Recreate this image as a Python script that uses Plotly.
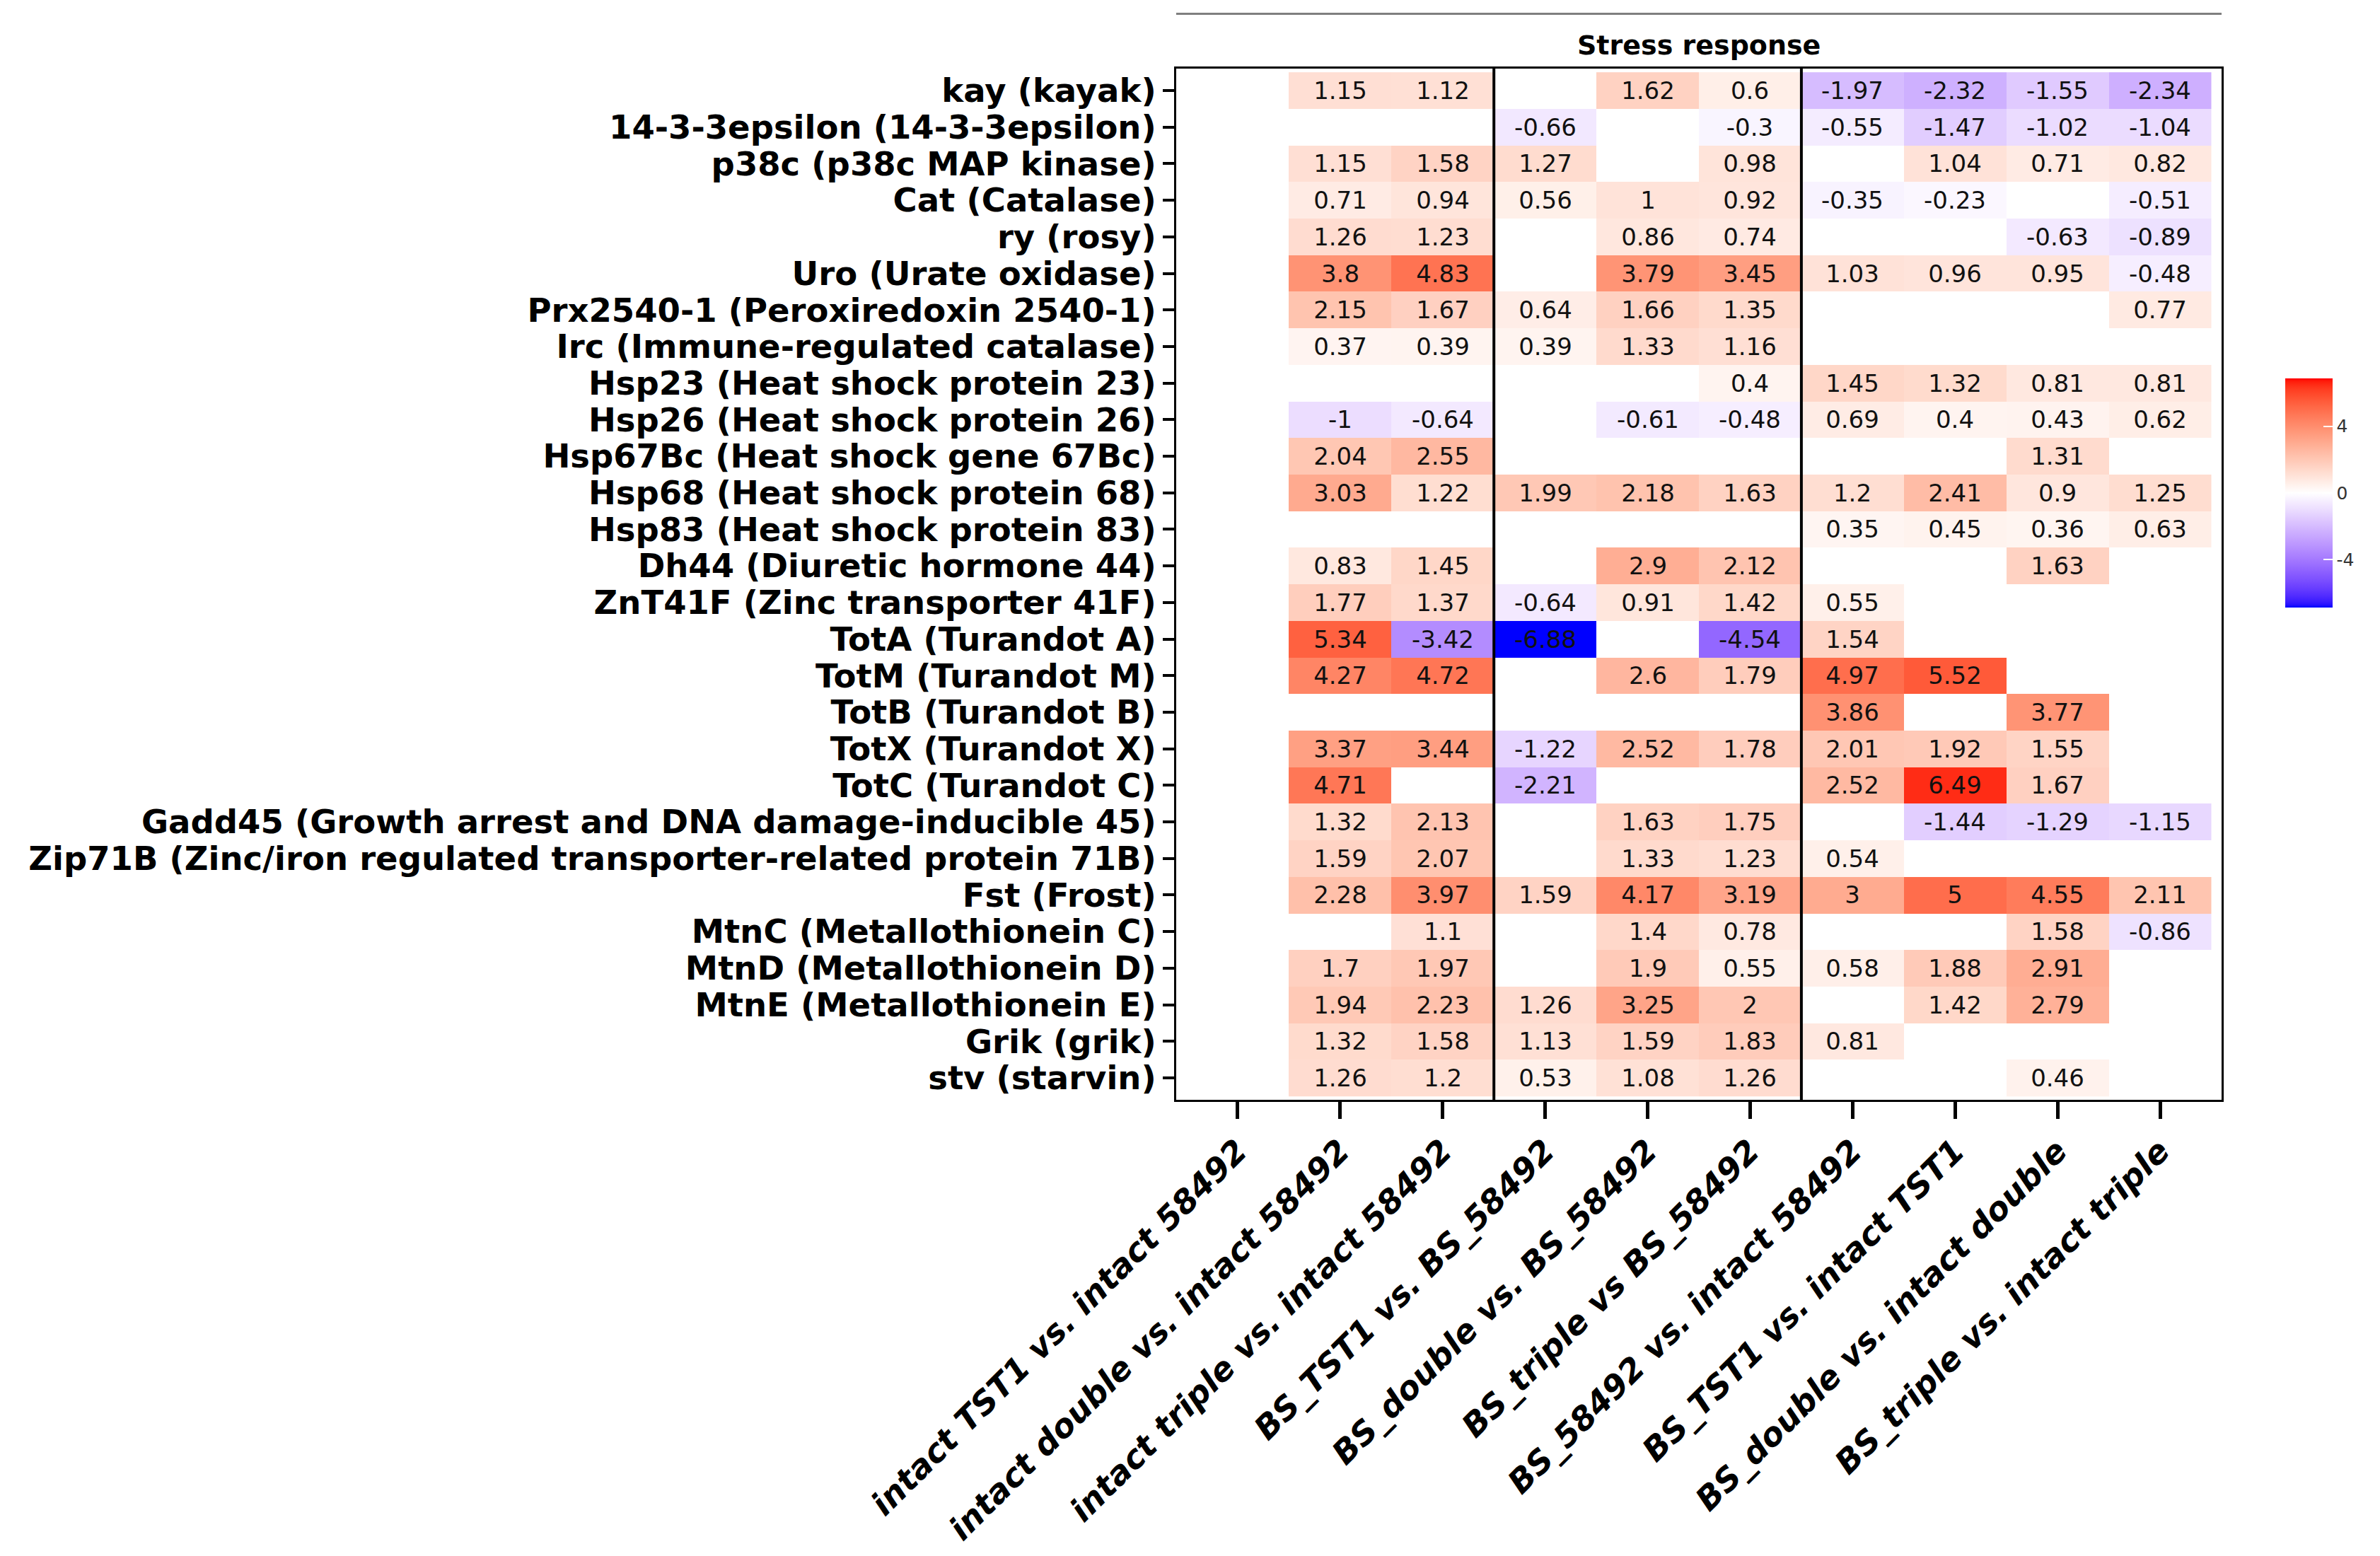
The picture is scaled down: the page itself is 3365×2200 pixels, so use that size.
import numpy as np
import plotly.graph_objects as go

nan = None

comparisons = [
    "intact TST1 vs. intact 58492",
    "intact double vs. intact 58492",
    "intact triple vs. intact 58492",
    "BS_TST1 vs. BS_58492",
    "BS_double vs. BS_58492",
    "BS_triple vs BS_58492",
    "BS_58492 vs. intact 58492",
    "BS_TST1 vs. intact TST1",
    "BS_double vs. intact double",
    "BS_triple vs. intact triple",
]

genes = [
    "kay (kayak)",
    "14-3-3epsilon (14-3-3epsilon)",
    "p38c (p38c MAP kinase)",
    "Cat (Catalase)",
    "ry (rosy)",
    "Uro (Urate oxidase)",
    "Prx2540-1 (Peroxiredoxin 2540-1)",
    "Irc (Immune-regulated catalase)",
    "Hsp23 (Heat shock protein 23)",
    "Hsp26 (Heat shock protein 26)",
    "Hsp67Bc (Heat shock gene 67Bc)",
    "Hsp68 (Heat shock protein 68)",
    "Hsp83 (Heat shock protein 83)",
    "Dh44 (Diuretic hormone 44)",
    "ZnT41F (Zinc transporter 41F)",
    "TotA (Turandot A)",
    "TotM (Turandot M)",
    "TotB (Turandot B)",
    "TotX (Turandot X)",
    "TotC (Turandot C)",
    "Gadd45 (Growth arrest and DNA damage-inducible 45)",
    "Zip71B (Zinc/iron regulated transporter-related protein 71B)",
    "Fst (Frost)",
    "MtnC (Metallothionein C)",
    "MtnD (Metallothionein D)",
    "MtnE (Metallothionein E)",
    "Grik (grik)",
    "stv (starvin)",
]

# log2 fold changes, one list per gene (columns follow `comparisons`)
kay = [nan, 1.15, 1.12, nan, 1.62, 0.6, -1.97, -2.32, -1.55, -2.34]
eps1433 = [nan, nan, nan, -0.66, nan, -0.3, -0.55, -1.47, -1.02, -1.04]
p38c = [nan, 1.15, 1.58, 1.27, nan, 0.98, nan, 1.04, 0.71, 0.82]
cat = [nan, 0.71, 0.94, 0.56, 1, 0.92, -0.35, -0.23, nan, -0.51]
ry = [nan, 1.26, 1.23, nan, 0.86, 0.74, nan, nan, -0.63, -0.89]
uro = [nan, 3.8, 4.83, nan, 3.79, 3.45, 1.03, 0.96, 0.95, -0.48]
prx = [nan, 2.15, 1.67, 0.64, 1.66, 1.35, nan, nan, nan, 0.77]
irc = [nan, 0.37, 0.39, 0.39, 1.33, 1.16, nan, nan, nan, nan]
hsp23 = [nan, nan, nan, nan, nan, 0.4, 1.45, 1.32, 0.81, 0.81]
hsp26 = [nan, -1, -0.64, nan, -0.61, -0.48, 0.69, 0.4, 0.43, 0.62]
hsp67bc = [nan, 2.04, 2.55, nan, nan, nan, nan, nan, 1.31, nan]
hsp68 = [nan, 3.03, 1.22, 1.99, 2.18, 1.63, 1.2, 2.41, 0.9, 1.25]
hsp83 = [nan, nan, nan, nan, nan, nan, 0.35, 0.45, 0.36, 0.63]
dh44 = [nan, 0.83, 1.45, nan, 2.9, 2.12, nan, nan, 1.63, nan]
znt41f = [nan, 1.77, 1.37, -0.64, 0.91, 1.42, 0.55, nan, nan, nan]
tota = [nan, 5.34, -3.42, -6.88, nan, -4.54, 1.54, nan, nan, nan]
totm = [nan, 4.27, 4.72, nan, 2.6, 1.79, 4.97, 5.52, nan, nan]
totb = [nan, nan, nan, nan, nan, nan, 3.86, nan, 3.77, nan]
totx = [nan, 3.37, 3.44, -1.22, 2.52, 1.78, 2.01, 1.92, 1.55, nan]
totc = [nan, 4.71, nan, -2.21, nan, nan, 2.52, 6.49, 1.67, nan]
gadd45 = [nan, 1.32, 2.13, nan, 1.63, 1.75, nan, -1.44, -1.29, -1.15]
zip71b = [nan, 1.59, 2.07, nan, 1.33, 1.23, 0.54, nan, nan, nan]
fst = [nan, 2.28, 3.97, 1.59, 4.17, 3.19, 3, 5, 4.55, 2.11]
mtnc = [nan, nan, 1.1, nan, 1.4, 0.78, nan, nan, 1.58, -0.86]
mtnd = [nan, 1.7, 1.97, nan, 1.9, 0.55, 0.58, 1.88, 2.91, nan]
mtne = [nan, 1.94, 2.23, 1.26, 3.25, 2, nan, 1.42, 2.79, nan]
grik = [nan, 1.32, 1.58, 1.13, 1.59, 1.83, 0.81, nan, nan, nan]
stv = [nan, 1.26, 1.2, 0.53, 1.08, 1.26, nan, nan, 0.46, nan]

rows = [kay, eps1433, p38c, cat, ry, uro, prx, irc, hsp23, hsp26, hsp67bc,
        hsp68, hsp83, dh44, znt41f, tota, totm, totb, totx, totc, gadd45,
        zip71b, fst, mtnc, mtnd, mtne, grik, stv]

colorbar_ticks = [-4, 0, 4]

z = np.array([[np.nan if v is None else v for v in r] for r in rows], dtype=float)
text = [["" if v is None else f"{v:g}" for v in r] for r in rows]
zlim = float(np.nanmax(np.abs(z)))

# ---- ggplot-like diverging gradient (blue-white-red) interpolated in CIELAB ----
M = np.array([[0.4124564, 0.3575761, 0.1804375],
              [0.2126729, 0.7151522, 0.0721750],
              [0.0193339, 0.1191920, 0.9503041]])
WHITE = np.array([0.95047, 1.0, 1.08883])
d = 6 / 29


def to_lab(rgb):
    c = np.array(rgb, float) / 255
    lin = np.where(c <= 0.04045, c / 12.92, ((c + 0.055) / 1.055) ** 2.4)
    xyz = M @ lin / WHITE
    f = np.where(xyz > d ** 3, np.cbrt(xyz), xyz / (3 * d * d) + 4 / 29)
    return np.array([116 * f[1] - 16, 500 * (f[0] - f[1]), 200 * (f[1] - f[2])])


def from_lab(lab):
    L, a, b = lab
    fy = (L + 16) / 116
    fx = fy + a / 500
    fz = fy - b / 200
    f = np.array([fx, fy, fz])
    xyz = np.where(f > d, f ** 3, 3 * d * d * (f - 4 / 29)) * WHITE
    lin = np.linalg.solve(M, xyz)
    lin = np.clip(lin, 0, 1)
    c = np.where(lin <= 0.0031308, 12.92 * lin, 1.055 * lin ** (1 / 2.4) - 0.055)
    c = np.clip(np.round(c * 255), 0, 255).astype(int)
    return f"rgb({c[0]},{c[1]},{c[2]})"


lab_blue, lab_white, lab_red = to_lab((0, 0, 255)), to_lab((255, 255, 255)), to_lab((255, 0, 0))
colorscale = []
n = 40
for i in range(n + 1):
    t = i / n
    colorscale.append([0.5 * t, from_lab(lab_blue + (lab_white - lab_blue) * t)])
for i in range(1, n + 1):
    t = i / n
    colorscale.append([0.5 + 0.5 * t, from_lab(lab_white + (lab_red - lab_white) * t)])

# ---- layout geometry (pixels) ----
W, H = 3365, 2200
L_, R_, T_, B_ = 1663, 3141, 97, 1565
pw, ph = R_ - L_, B_ - T_

fig = go.Figure(go.Heatmap(
    z=z, x=comparisons, y=genes, text=text, texttemplate="%{text}",
    textfont=dict(family="DejaVu Sans", size=34, color="#111111"),
    colorscale=colorscale, zmin=-zlim, zmax=zlim, zmid=0,
    hoverongaps=False,
    colorbar=dict(
        thickness=67, thicknessmode="pixels",
        len=324, lenmode="pixels",
        x=(3231 - L_) / pw, xanchor="left", xpad=0,
        y=(B_ - 701) / ph, yanchor="middle", ypad=0,
        outlinewidth=0,
        tickvals=colorbar_ticks, ticktext=[str(v) for v in colorbar_ticks],
        ticks="inside", ticklen=13, tickwidth=2, tickcolor="white",
        tickfont=dict(family="DejaVu Sans", size=25, color="#333333"),
    ),
))

fig.update_layout(
    width=W, height=H,
    margin=dict(l=L_, r=W - R_, t=T_, b=H - B_, pad=0),
    paper_bgcolor="white", plot_bgcolor="white",
    font=dict(family="DejaVu Sans", color="black"),
    xaxis=dict(
        type="category", range=[-0.6, len(comparisons) - 0.4], autorange=False,
        tickmode="array", tickvals=comparisons, ticktext=comparisons,
        showgrid=False, zeroline=False,
        showline=True, mirror=True, linecolor="black", linewidth=3,
        ticks="outside", ticklen=24, tickwidth=5, tickcolor="black",
        tickangle=-45,
        tickfont=dict(family="DejaVu Sans", size=46, color="black",
                      weight="bold", style="italic"),
    ),
    yaxis=dict(
        type="category", range=[len(genes) - 0.4, -0.6], autorange=False,
        tickmode="array", tickvals=genes, ticktext=genes,
        showgrid=False, zeroline=False,
        showline=True, mirror=True, linecolor="black", linewidth=3,
        ticks="outside", ticklen=16, tickwidth=4, tickcolor="black",
        tickfont=dict(family="DejaVu Sans", size=46.5, color="black", weight="bold"),
    ),
    shapes=[
        dict(type="line", xref="x", yref="y domain", x0=2.5, x1=2.5, y0=0, y1=1,
             line=dict(color="black", width=4)),
        dict(type="line", xref="x", yref="y domain", x0=5.5, x1=5.5, y0=0, y1=1,
             line=dict(color="black", width=4)),
        dict(type="line", xref="paper", yref="paper", x0=0, x1=1,
             y0=(B_ - 19) / ph, y1=(B_ - 19) / ph,
             line=dict(color="#7f7f7f", width=3)),
    ],
    annotations=[
        dict(text="<b>Stress response</b>", xref="paper", yref="paper",
             x=0.5, y=(B_ - 64) / ph, xanchor="center", yanchor="middle",
             showarrow=False, font=dict(family="DejaVu Sans", size=38, color="black")),
    ],
)

fig.write_html("out.html")
